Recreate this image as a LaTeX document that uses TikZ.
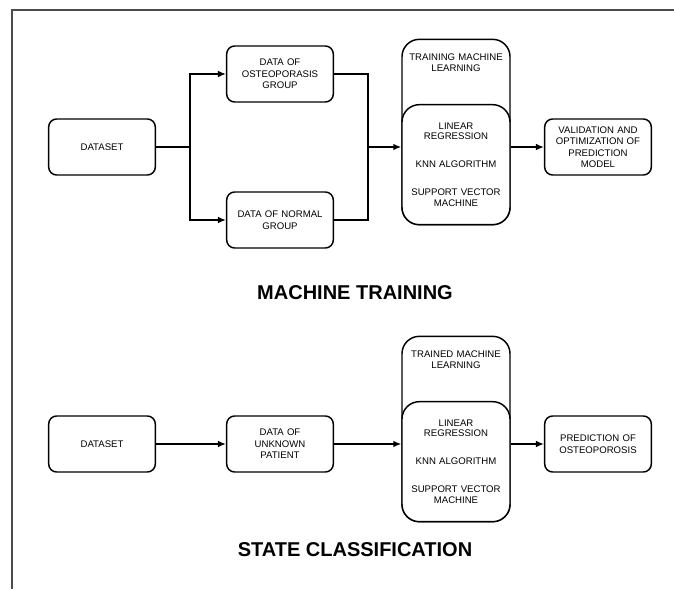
\documentclass[tikz,border=0pt]{standalone}
\usepackage{fontspec}
\setmainfont{Liberation Sans}
\usetikzlibrary{positioning,arrows.meta}
\tikzset{
    box/.style={draw, rounded corners=6pt, line width=1.1pt,
        minimum width=80pt, minimum height=42pt, inner sep=1pt,
        text width=78pt, align=center,
        font=\fontsize{7.2}{8.6}\selectfont},
    mlouter/.style={draw, rounded corners=13pt, line width=1.1pt,
        minimum width=81pt, minimum height=139pt},
    mlinner/.style={draw, fill=white, rounded corners=13pt, line width=1.1pt,
        minimum width=81pt, minimum height=90pt, inner sep=1pt,
        text width=79pt, align=center,
        font=\fontsize{7.2}{8}\selectfont},
    mltitle/.style={text width=82pt, align=center, inner sep=0pt,
        font=\fontsize{7.2}{8.6}\selectfont},
    heading/.style={font=\fontsize{15}{18}\selectfont\bfseries},
    arr/.style={-{Latex[length=6pt,width=5pt]}, line width=1.1pt},
    ln/.style={line width=1.1pt}
}

\begin{document}
\begin{tikzpicture}[x=0.75pt,y=-0.75pt]
    \useasboundingbox (0,0) rectangle (674,589);
    % frame
    \draw[line width=1.5pt, black!70] (12,589) -- (12,10) -- (674,10);

    % machine training
    \node[box] (ds1) at (102,147) {DATASET};
    \node[box] (ost) at (280,74) {DATA OF\\OSTEOPORASIS\\GROUP};
    \node[box] (nrm) at (280,220) {DATA OF NORMAL\\GROUP};
    \node[mlouter] (tml) at (456,132) {};
    \node[mltitle, below=11pt of tml.north] (tmlt) {TRAINING MACHINE\\LEARNING};
    \node[mlinner, anchor=south] (alg1) at (tml.south)
        {LINEAR\\REGRESSION\\[13pt]KNN ALGORITHM\\[13pt]SUPPORT VECTOR\\MACHINE};
    \node[box] (val) at (598,147) {VALIDATION AND\\OPTIMIZATION OF\\PREDICTION\\MODEL};
    \node[heading] (hd1) at (355,293) {MACHINE TRAINING};

    \draw[ln] (ds1.east) -- (190,147) coordinate (j1);
    \draw[arr] (j1) |- (ost.west);
    \draw[arr] (j1) |- (nrm.west);
    \draw[ln] (ost.east) -| (368,147) coordinate (j2);
    \draw[ln] (nrm.east) -| (j2);
    \draw[arr] (j2) -- (j2 -| alg1.west);
    \draw[arr] (alg1.east |- val.west) -- (val.west);

    % state classification
    \node[box] (ds2) at (102,444) {DATASET};
    \node[box] (unk) at (280,444) {DATA OF\\UNKNOWN\\PATIENT};
    \node[mlouter] (trd) at (456,429) {};
    \node[mltitle, below=11pt of trd.north] (trdt) {TRAINED MACHINE\\LEARNING};
    \node[mlinner, anchor=south] (alg2) at (trd.south)
        {LINEAR\\REGRESSION\\[13pt]KNN ALGORITHM\\[13pt]SUPPORT VECTOR\\MACHINE};
    \node[box] (prd) at (598,444) {PREDICTION OF\\OSTEOPOROSIS};
    \node[heading] (hd2) at (355,550) {STATE CLASSIFICATION};

    \draw[arr] (ds2) -- (unk);
    \draw[arr] (unk.east) -- (unk.east -| alg2.west);
    \draw[arr] (alg2.east |- prd.west) -- (prd.west);
\end{tikzpicture}
\end{document}
